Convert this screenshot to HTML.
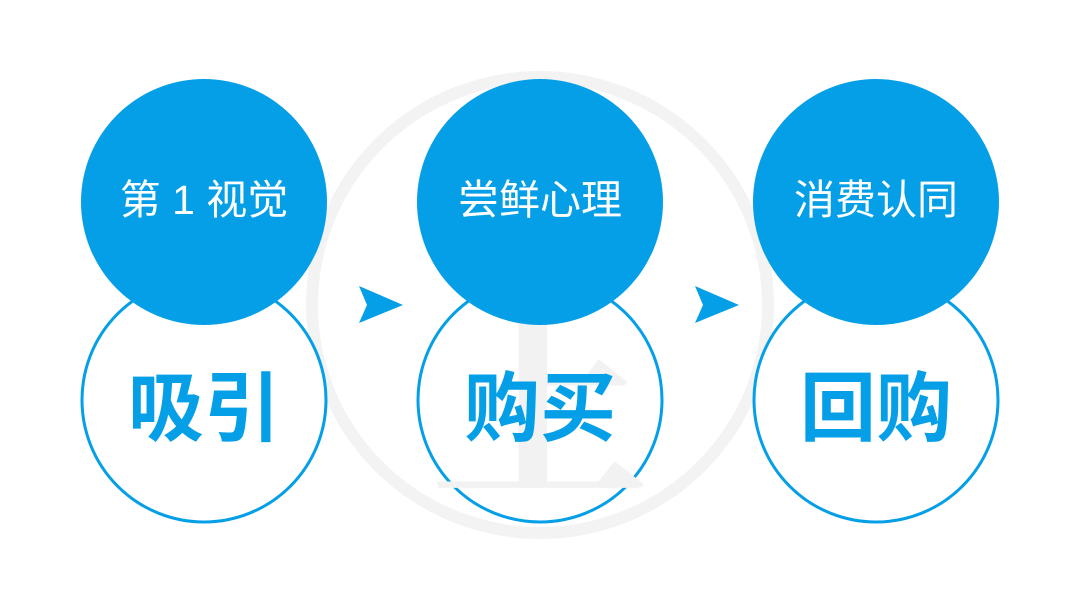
<!DOCTYPE html>
<html><head><meta charset="utf-8"><style>
html,body{margin:0;padding:0;background:#fff;}
body{width:1080px;height:600px;position:relative;overflow:hidden;font-family:"Liberation Sans","Noto Sans CJK SC",sans-serif;}
.t{position:absolute;width:246px;text-align:center;}
.top{color:#fff;font-size:41px;top:174px;line-height:52px;}
.bot{color:#059fe7;font-size:76px;font-weight:bold;top:364px;line-height:92px;}
</style></head><body>
<svg width="1080" height="600" style="position:absolute;left:0;top:0">
<circle cx="540" cy="305" r="228" fill="none" stroke="#f3f3f3" stroke-width="12"/>
<g fill="#fff" stroke="#059fe7" stroke-width="3">
<circle cx="204" cy="400" r="122"/><circle cx="540" cy="400" r="122"/><circle cx="876" cy="400" r="122"/>
</g>
<text x="540" y="480" text-anchor="middle" font-size="220" font-weight="bold" fill="#f2f2f2" style="font-family:'Noto Serif CJK SC',serif">上</text>
<g fill="#059fe7">
<circle cx="204" cy="202" r="123"/><circle cx="540" cy="202" r="123"/><circle cx="876" cy="202" r="123"/>
<polygon points="359,286 403,305 359,323 367,305"/>
<polygon points="695,286 739,305 695,323 703,305"/>
</g>
</svg>
<div class="t top" style="left:81px">第 1 视觉</div>
<div class="t top" style="left:417px">尝鲜心理</div>
<div class="t top" style="left:753px">消费认同</div>
<div class="t bot" style="left:81px">吸引</div>
<div class="t bot" style="left:417px">购买</div>
<div class="t bot" style="left:753px">回购</div>
</body></html>
